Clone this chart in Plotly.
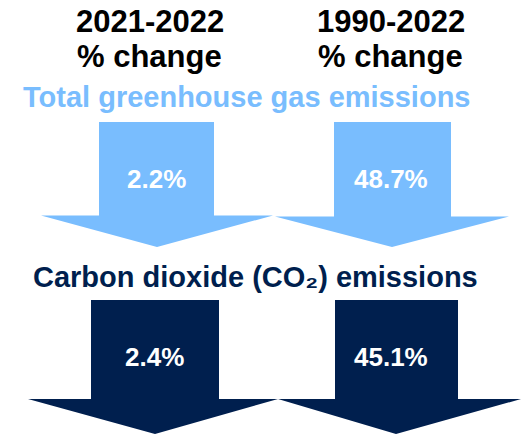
import plotly.graph_objects as go

# Data
periods = ["2021-2022", "1990-2022"]
period_sub = ["% change", "% change"]
categories = ["Total greenhouse gas emissions", "Carbon dioxide (CO₂) emissions"]
ghg_change = [2.2, 48.7]
co2_change = [2.4, 45.1]

LIGHT = "#79BDFE"
NAVY = "#001F4E"
FONT = "Liberation Sans, Arial, sans-serif"

W, H = 521, 434

# arrow geometry (pixel layout): [shaft_cx, shaft_half, head_l, head_r, tip_x]
rows = [
    dict(values=ghg_change, color=LIGHT, top=122, shaft_bot=[215.5, 216.5], tip_y=247,
         geo=[(156.5, 57.5, 41, 273, 157), (392.5, 58.5, 275, 509, 392)],
         label_y=179, cat_y=97, cat_x=246, cat_size=29),
    dict(values=co2_change, color=NAVY, top=300, shaft_bot=[399, 399], tip_y=434,
         geo=[(155, 64, 28, 278, 155), (396.5, 61.5, 278, 521, 396)],
         label_y=357, cat_y=277, cat_x=255, cat_size=29),
]
label_x = [[156, 391], [154, 391]]

fig = go.Figure()
annotations = []
for r_i, row in enumerate(rows):
    for c_i, v in enumerate(row["values"]):
        cx, half, hl, hr, tx = row["geo"][c_i]
        sb = row["shaft_bot"][c_i]
        xs = [cx - half, cx + half, cx + half, hr, tx, hl, cx - half, cx - half]
        ys = [row["top"], row["top"], sb, sb, row["tip_y"], sb, sb, row["top"]]
        fig.add_trace(go.Scatter(x=xs, y=ys, mode="lines", fill="toself",
                                 fillcolor=row["color"], line=dict(width=0, color=row["color"]),
                                 hoverinfo="skip", showlegend=False))
        annotations.append(dict(x=label_x[r_i][c_i], y=row["label_y"], xref="x", yref="y",
                                text=f"<b>{v:.1f}%</b>", showarrow=False,
                                font=dict(family=FONT, size=26, color="white"),
                                xanchor="center", yanchor="middle"))
    annotations.append(dict(x=row["cat_x"], y=row["cat_y"], xref="x", yref="y",
                            text=f"<b>{categories[r_i]}</b>", showarrow=False,
                            font=dict(family=FONT, size=row["cat_size"], color=row["color"]),
                            xanchor="center", yanchor="middle"))

head_x = [150, 391]
for i, p in enumerate(periods):
    annotations.append(dict(x=head_x[i], y=21, xref="x", yref="y", text=f"<b>{p}</b>",
                            showarrow=False, font=dict(family=FONT, size=31, color="black"),
                            xanchor="center", yanchor="middle"))
    annotations.append(dict(x=head_x[i] - 1, y=56, xref="x", yref="y", text=f"<b>{period_sub[i]}</b>",
                            showarrow=False, font=dict(family=FONT, size=31, color="black"),
                            xanchor="center", yanchor="middle"))

fig.update_layout(
    width=W, height=H, margin=dict(l=0, r=0, t=0, b=0),
    paper_bgcolor="white", plot_bgcolor="white",
    xaxis=dict(range=[0, W], visible=False, fixedrange=True),
    yaxis=dict(range=[H, 0], visible=False, fixedrange=True),
    annotations=annotations,
)
fig.write_html("out.html", config={"displayModeBar": False},
               post_script="document.body.style.margin='0';document.body.style.overflow='hidden';")
